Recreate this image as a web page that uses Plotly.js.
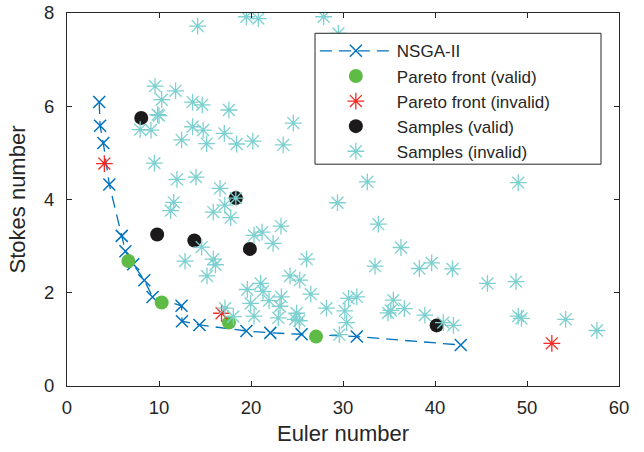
<!DOCTYPE html>
<html>
<head>
<meta charset="utf-8">
<script src="https://cdn.plot.ly/plotly-3.0.1.min.js"></script>
<style>html,body{margin:0;padding:0;background:#fff;}#chart{width:644px;height:452px;}</style>
</head>
<body>
<div id="chart"></div>
<script>
// NSGA-II front
const nsgaX = [3.5, 3.6, 3.95, 4.6, 5.95, 6.35, 7.2, 8.4, 9.3, 12.45, 12.5, 14.4, 19.5, 22.1, 25.5, 31.5, 42.8];
const nsgaY = [6.09, 5.58, 5.21, 4.32, 3.22, 2.89, 2.61, 2.27, 1.91, 1.72, 1.39, 1.31, 1.18, 1.14, 1.11, 1.06, 0.88];
// Pareto front (valid)
const pvX = [6.67, 10.29, 17.6, 27.07];
const pvY = [2.68, 1.79, 1.36, 1.06];
// Pareto front (invalid)
const piX = [4.06, 16.8, 52.7];
const piY = [4.77, 1.56, 0.915];
// Samples (valid)
const svX = [8.07, 9.8, 13.84, 19.88, 18.35, 40.18];
const svY = [5.75, 3.25, 3.12, 2.94, 4.03, 1.3];
// Samples (invalid)
const siX = [14.2, 19.5, 20.8, 27.9, 29.5, 9.57, 11.8, 10.29, 13.65, 14.7, 17.6, 9.85, 10.0, 7.95, 9.13,
  13.65, 14.8, 12.46, 15.18, 17.1, 18.44, 20.2, 24.6, 23.5, 9.5, 11.95, 14.02, 16.63, 18.35, 11.6,
  11.27, 17.15, 15.9, 17.8, 14.64, 20.33, 21.2, 22.4, 23.26, 12.83, 15.9, 16.14, 15.22, 26.05, 29.4,
  32.64, 33.84, 36.3, 33.48, 38.3, 39.64, 41.9, 49.05, 45.7, 48.8, 49.05, 49.4, 54.2, 57.6, 24.24,
  25.3, 21.05, 19.6, 21.3, 26.5, 23.3, 21.96, 19.97, 23.15, 28.2, 30.6, 31.5, 30.2, 18.08, 20.33,
  22.97, 24.96, 24.8, 25.25, 30.4, 29.6, 17.17, 35.47, 34.9, 35.2, 36.67, 38.9, 40.9, 42.0];
const siY = [7.72, 7.92, 7.88, 7.92, 7.56, 6.43, 6.33, 6.14, 6.09, 6.03, 5.92, 5.82, 5.8, 5.5, 5.49,
  5.56, 5.49, 5.28, 5.2, 5.42, 5.19, 5.25, 5.64, 5.17, 4.78, 4.43, 4.48, 4.24, 4.03, 3.94,
  3.76, 3.88, 3.73, 3.61, 2.98, 3.23, 3.3, 3.06, 3.43, 2.68, 2.72, 2.6, 2.36, 2.72, 3.93,
  4.38, 3.47, 2.97, 2.57, 2.52, 2.64, 2.51, 4.36, 2.2, 2.24, 1.5, 1.45, 1.43, 1.19, 2.36,
  2.27, 2.2, 2.07, 2.03, 1.97, 1.91, 1.83, 1.77, 1.71, 1.67, 1.88, 1.91, 1.61, 1.49, 1.5,
  1.46, 1.56, 1.43, 1.4, 1.36, 1.1, 1.67, 1.84, 1.57, 1.62, 1.66, 1.52, 1.36, 1.3];

const names = ['NSGA-II', 'Pareto front (valid)', 'Pareto front (invalid)', 'Samples (valid)', 'Samples (invalid)'];
const xTicks = [0, 10, 20, 30, 40, 50, 60];
const yTicks = [0, 2, 4, 6, 8];

const axCol = '#262626';
const traces = [
  {x: nsgaX, y: nsgaY, name: names[0], type: 'scatter', mode: 'lines+markers',
   line: {color: '#0072BD', width: 1.3, dash: '12px,7px'},
   marker: {symbol: 'x-thin-open', size: 12, color: '#0072BD', line: {color: '#0072BD', width: 1.5}}},
  {x: pvX, y: pvY, name: names[1], type: 'scatter', mode: 'markers',
   marker: {symbol: 'circle', size: 14, color: '#5DBB46', line: {width: 0}}},
  {x: piX, y: piY, name: names[2], type: 'scatter', mode: 'markers',
   marker: {symbol: 'asterisk-open', size: 14, color: '#F22B24', line: {color: '#F22B24', width: 1.3}}},
  {x: svX, y: svY, name: names[3], type: 'scatter', mode: 'markers',
   marker: {symbol: 'circle', size: 14, color: '#1C1A1B', line: {width: 0}}},
  {x: siX, y: siY, name: names[4], type: 'scatter', mode: 'markers',
   marker: {symbol: 'asterisk-open', size: 14, color: '#7ED0D0', line: {color: '#7ED0D0', width: 1.3}}}
];

const layout = {
  width: 644, height: 452,
  margin: {l: 67, r: 25, t: 13, b: 66},
  paper_bgcolor: '#fff', plot_bgcolor: '#fff',
  font: {family: 'Liberation Sans, Arial, sans-serif', size: 18, color: axCol},
  showlegend: true,
  legend: {x: 0.449, y: 0.9456, xanchor: 'left', yanchor: 'top',
    bgcolor: 'rgba(0,0,0,0)', borderwidth: 0,
    font: {size: 17, color: axCol}, itemwidth: 72, tracegroupgap: 0},
  shapes: [{type: 'rect', xref: 'paper', yref: 'paper', layer: 'above',
    x0: 0.4493, x1: 0.9674, y0: 0.5947, y1: 0.9456,
    fillcolor: '#fff', line: {color: axCol, width: 1}}],
  xaxis: {range: [0, 60], tickvals: xTicks, ticktext: xTicks.map(String),
    ticks: 'inside', ticklen: 5, tickwidth: 1, tickcolor: axCol,
    showline: true, linecolor: axCol, linewidth: 1, mirror: 'ticks',
    showgrid: false, zeroline: false, ticklabelstandoff: 5,
    tickfont: {size: 18.5, color: axCol},
    title: {text: 'Euler number', font: {size: 22, color: axCol}, standoff: 8}},
  yaxis: {range: [0, 8], tickvals: yTicks, ticktext: yTicks.map(String),
    ticks: 'inside', ticklen: 5, tickwidth: 1, tickcolor: axCol,
    showline: true, linecolor: axCol, linewidth: 1, mirror: 'ticks',
    showgrid: false, zeroline: false, ticklabelstandoff: 8,
    tickfont: {size: 18.5, color: axCol},
    title: {text: 'Stokes number', font: {size: 22, color: axCol}, standoff: 12}}
};

Plotly.newPlot('chart', traces, layout, {displayModeBar: false, staticPlot: true});
</script>
</body>
</html>
